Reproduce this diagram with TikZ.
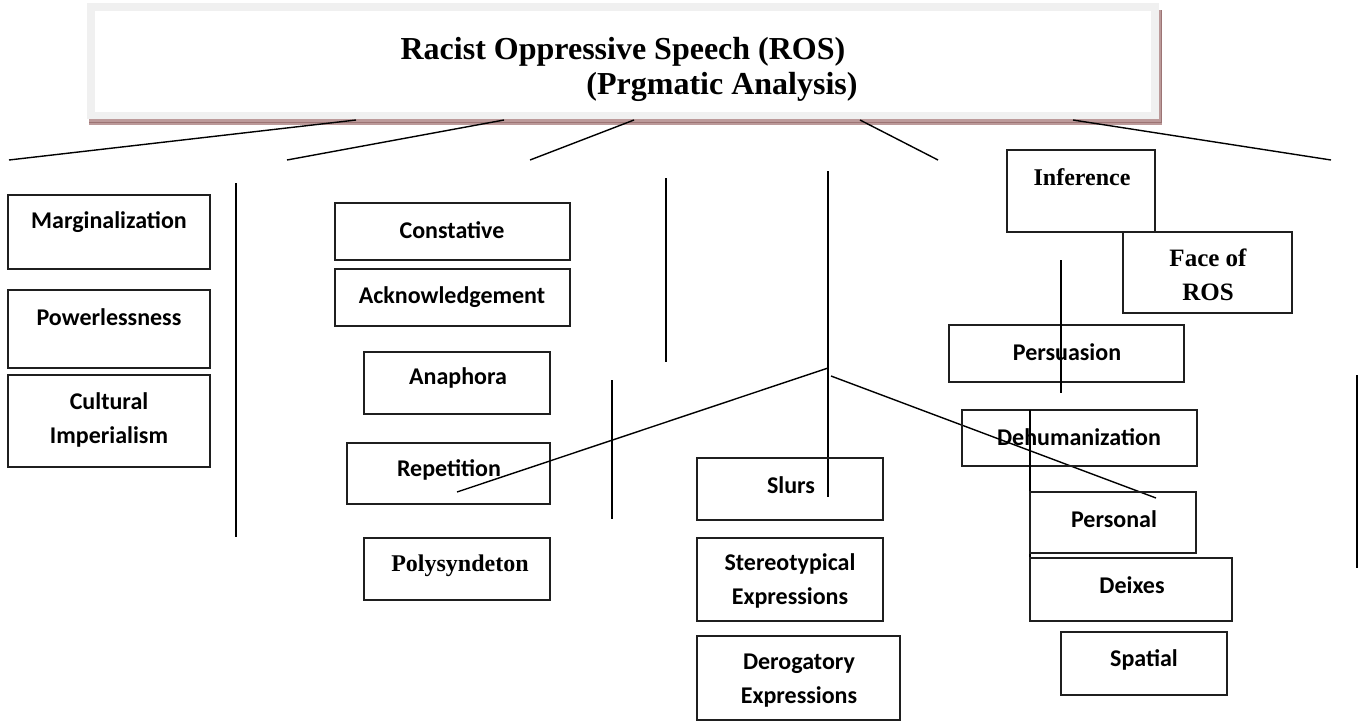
\documentclass[tikz,border=0pt]{standalone}
\usepackage{fontspec}
\setmainfont{Liberation Serif}
\newfontfamily\calib{Carlito}
\usetikzlibrary{fit}
\definecolor{framegray}{HTML}{F0F0F0}
\definecolor{shadowrose}{HTML}{BC9A9A}
\definecolor{shadowedge}{HTML}{9C7474}
\tikzset{
  box/.style={draw=black!88, line width=1.6pt, inner sep=0pt, outer sep=0pt},
  lbl/.style={font=\calib\bfseries\fontsize{24}{34}\selectfont, inner sep=0pt, align=center, text=black},
  tlbl/.style={font=\bfseries\fontsize{24}{34}\selectfont, inner sep=0pt, align=center, text=black},
  titlef/.style={font=\bfseries\fontsize{32}{35}\selectfont, inner sep=0pt, text=black},
  ln/.style={line width=1.4pt, black}
}
\begin{document}
\begin{tikzpicture}[x=1pt,y=-1pt]
\useasboundingbox (0,0) rectangle (1362,726);
\fill[white] (0,0) rectangle (1362,726);
% title box with shadow
\fill[shadowrose] (89,10) rectangle (1162,125);
\draw[shadowedge, line width=0.8pt] (89,122) -- (1161,122) -- (1161,10);
\fill[framegray] (87,3) rectangle (1159,119);
\node[fill=white, inner sep=0pt, fit={(95,11) (1151,112)}] (title) {};
\node[titlef, anchor=center] (t1) at (623,52) {Racist Oppressive Speech (ROS)};
\node[titlef, anchor=center] (t2) at (722,87) {(Prgmatic Analysis)};
% top connector lines
\coordinate (a1) at (356,120); \coordinate (b1) at (9,160);
\coordinate (a2) at (504,120); \coordinate (b2) at (287,160);
\coordinate (a3) at (634,120); \coordinate (b3) at (530,160);
\coordinate (a4) at (860,120); \coordinate (b4) at (938,160);
\coordinate (a5) at (1073,120); \coordinate (b5) at (1331,160);
\draw[ln] (a1) -- (b1);
\draw[ln] (a2) -- (b2);
\draw[ln] (a3) -- (b3);
\draw[ln] (a4) -- (b4);
\draw[ln] (a5) -- (b5);
% column 1
\node[box, fit={(8,195) (210,269)}] (marg) {};
\node[lbl] (margt) at (109,222) {Marginalization};
\node[box, fit={(8,290) (210,368)}] (power) {};
\node[lbl] (powert) at (109,317) {Powerlessness};
\node[box, fit={(8,375) (210,467)}] (cult) {};
\node[lbl] (cultt) at (109,420) {Cultural\\Imperialism};
\coordinate (v1a) at (236,183); \coordinate (v1b) at (236,537);
\draw[ln] (v1a) -- (v1b);
% column 2
\node[box, fit={(335,203) (570,260)}] (const) {};
\node[lbl] (constt) at (452,230) {Constative};
\node[box, fit={(335,269) (570,326)}] (ack) {};
\node[lbl] (ackt) at (452,297) {Acknowledgement};
\node[box, fit={(364,352) (550,414)}] (ana) {};
\node[lbl] (anat) at (458,378) {Anaphora};
\node[box, fit={(347,443) (550,504)}] (rep) {};
\node[lbl] (rept) at (449,470) {Repetition};
\node[box, fit={(364,538) (550,600)}] (poly) {};
\node[tlbl] (polyt) at (460,566) {Polysyndeton};
\coordinate (v2a) at (666,178); \coordinate (v2b) at (666,362);
\draw[ln] (v2a) -- (v2b);
\coordinate (v3a) at (612,380); \coordinate (v3b) at (612,519);
\draw[ln] (v3a) -- (v3b);
% column 3
\coordinate (v4a) at (828,171); \coordinate (v4b) at (828,497);
\draw[ln] (v4a) -- (v4b);
\coordinate (j1) at (828,368); \coordinate (d1) at (457,492);
\draw[ln] (j1) -- (d1);
\coordinate (j2) at (831,376); \coordinate (d2) at (1156,498);
\draw[ln] (j2) -- (d2);
\node[box, fit={(697,458) (883,520)}] (slurs) {};
\node[lbl] (slurst) at (791,485) {Slurs};
\node[box, fit={(697,538) (883,621)}] (stereo) {};
\node[lbl] (stereot) at (790,581) {Stereotypical\\Expressions};
\node[box, fit={(697,636) (900,720)}] (derog) {};
\node[lbl] (derogt) at (799,681) {Derogatory\\Expressions};
% column 4
\node[box, fit={(1007,150) (1155,232)}] (infer) {};
\node[tlbl] (infert) at (1082,177) {Inference};
\node[box, fit={(1123,232) (1292,313)}] (face) {};
\node[tlbl, font=\bfseries\fontsize{25}{34}\selectfont] (facet) at (1208,275) {Face of\\ROS};
\node[box, fit={(949,325) (1184,382)}] (pers) {};
\node[lbl] (perst) at (1067,352) {Persuasion};
\coordinate (v5a) at (1061,260); \coordinate (v5b) at (1061,393);
\draw[ln] (v5a) -- (v5b);
\node[box, fit={(962,410) (1197,466)}] (dehum) {};
\node[lbl] (dehumt) at (1079,437) {Dehumanization};
\coordinate (v6a) at (1030,410); \coordinate (v6b) at (1030,593);
\draw[ln] (v6a) -- (v6b);
\node[box, fit={(1030,492) (1196,553)}] (personal) {};
\node[lbl] (personalt) at (1114,519) {Personal};
\node[box, fit={(1030,558) (1232,621)}] (deix) {};
\node[lbl] (deixt) at (1132,585) {Deixes};
\node[box, fit={(1061,632) (1227,695)}] (spat) {};
\node[lbl] (spatt) at (1144,660) {Spatial};
\coordinate (v7a) at (1357,375); \coordinate (v7b) at (1357,568);
\draw[ln] (v7a) -- (v7b);
\end{tikzpicture}
\end{document}
